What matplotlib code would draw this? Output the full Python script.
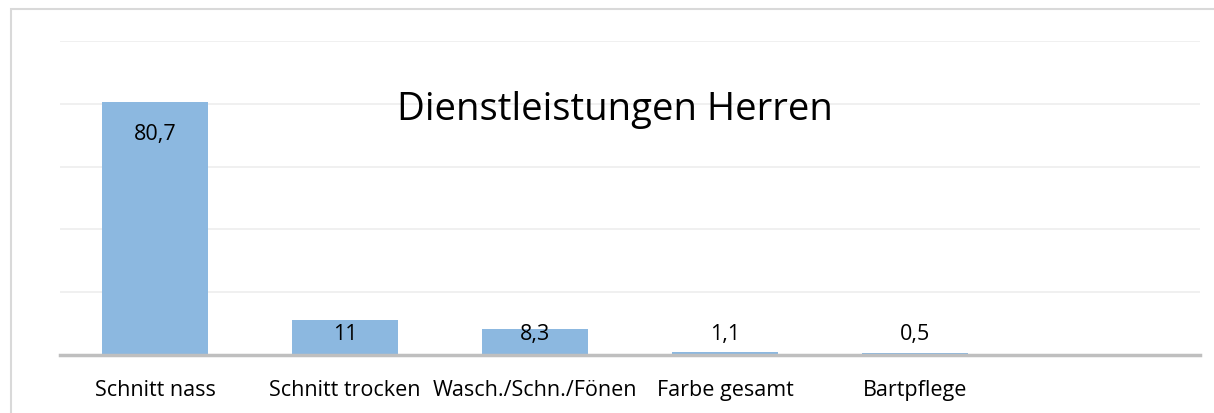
import matplotlib.pyplot as plt
from matplotlib.patches import Rectangle

plt.rcParams['font.family'] = ['Open Sans', 'DejaVu Sans']

kategorien = ["Schnitt nass", "Schnitt trocken", "Wasch./Schn./Fönen",
              "Farbe gesamt", "Bartpflege"]
werte = [80.7, 11, 8.3, 1.1, 0.5]
beschriftung = ["80,7", "11", "8,3", "1,1", "0,5"]
n_slots = 6  # Excel axis leaves room for one empty category

fig = plt.figure(figsize=(12.14, 4.14), dpi=100)
ax = fig.add_axes([60 / 1214, 58 / 414, 1140 / 1214, 314 / 414])

x = list(range(len(werte)))
ax.bar(x, werte, width=0.56, color="#8CB8E0", zorder=2)

ax.set_xlim(-0.5, n_slots - 0.5)
ax.set_ylim(0, 100)
ax.set_yticks([0, 20, 40, 60, 80, 100])
ax.yaxis.grid(True, color="#EDEDED", linewidth=1.2, zorder=0)
ax.tick_params(axis="y", left=False, labelleft=False)

ax.set_xticks(x)
ax.set_xticklabels(kategorien, fontsize=15.5)
ax.tick_params(axis="x", length=0, pad=17)

for s in ["top", "right", "left"]:
    ax.spines[s].set_visible(False)
ax.spines["bottom"].set_color("#BFBFBF")
ax.spines["bottom"].set_linewidth(2.5)
ax.spines["bottom"].set_zorder(3)

# data labels: inside end for tall bars, fixed height near the axis otherwise
for xi, v, t in zip(x, werte, beschriftung):
    y = v - 10 if v > 50 else 6.8
    ax.text(xi, y, t, ha="center", va="center", fontsize=15.5, color="black", zorder=4)

ax.text(0.487, 0.785, "Dienstleistungen Herren", transform=ax.transAxes,
        ha="center", va="center", fontsize=27.5, color="black")

# chart area border (top and left visible)
fig.patches.append(Rectangle((10.5 / 1214, -0.1), 1.2, 1.1 - 10.5 / 414,
                             transform=fig.transFigure, fill=False,
                             edgecolor="#D9D9D9", linewidth=1.5))

fig.savefig("out.png", dpi=100)
